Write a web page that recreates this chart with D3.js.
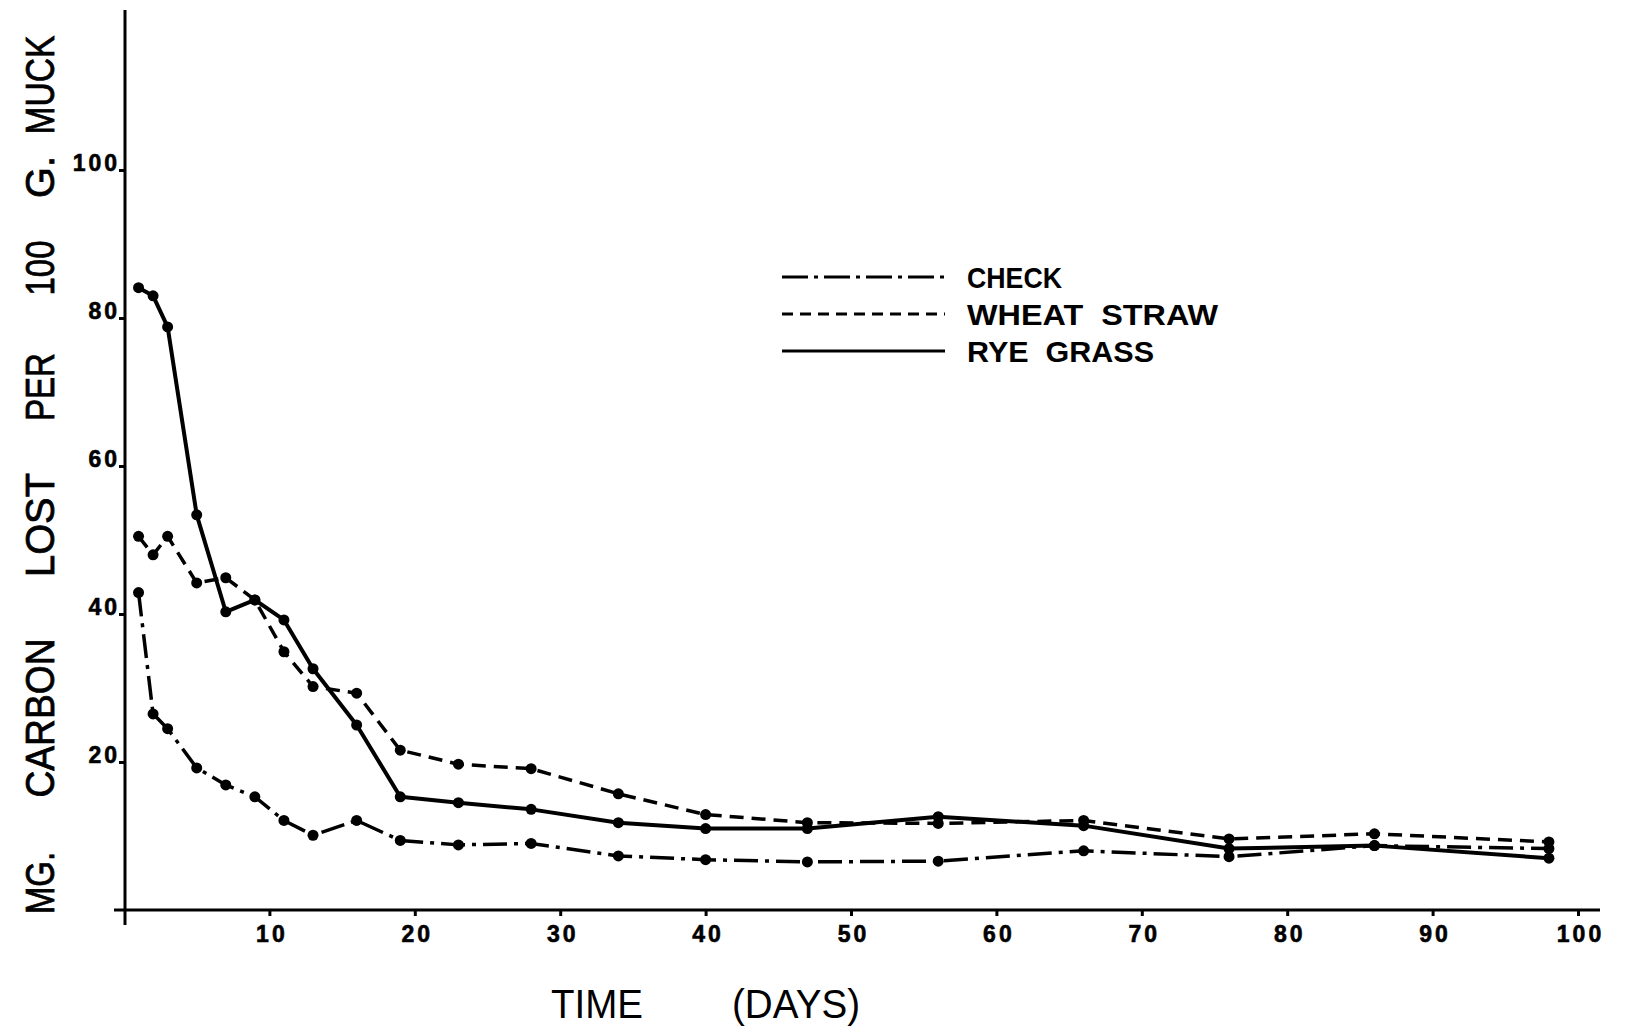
<!DOCTYPE html>
<html>
<head>
<meta charset="utf-8">
<script src="https://d3js.org/d3.v7.min.js"></script>
<style>
  body { margin: 0; background: #fff; }
  svg { display: block; }
  text { fill: #000; }
</style>
</head>
<body>
<div id="chart"></div>
<script>
// sampling days
var days = [1, 2, 3, 5, 7, 9, 11, 13, 16, 19, 23, 28, 34, 40, 47, 56, 66, 76, 86, 98];

// mg carbon lost per 100 g muck
var check = [42.9, 26.5, 24.5, 19.2, 16.9, 15.3, 12.1, 10.1, 12.1, 9.4, 8.8, 9.0, 7.3, 6.8, 6.5, 6.6, 8.0, 7.2, 8.7, 8.3];
var wheatStraw = [50.5, 48.0, 50.5, 44.2, 44.9, 41.9, 34.9, 30.2, 29.3, 21.6, 19.7, 19.1, 15.7, 12.9, 11.8, 11.7, 12.1, 9.6, 10.3, 9.2];
var ryeGrass = [84.1, 83.0, 78.8, 53.4, 40.3, 41.9, 39.2, 32.6, 25.0, 15.3, 14.5, 13.6, 11.8, 11.0, 11.0, 12.6, 11.4, 8.3, 8.7, 7.0];

var seriesNames = ['CHECK', 'WHEAT  STRAW', 'RYE  GRASS'];
var xTicks = [10, 20, 30, 40, 50, 60, 70, 80, 90, 100];
var yTicks = [20, 40, 60, 80, 100];
var yTitleWords = ['MG.', 'CARBON', 'LOST', 'PER', '100', 'G.', 'MUCK'];

var width = 1629, height = 1032;

var svg = d3.select('#chart').append('svg')
    .attr('width', width)
    .attr('height', height);

var x = d3.scaleLinear().domain([0, 100]).range([124, 1578]);
var y = d3.scaleLinear().domain([0, 100]).range([910, 170]);

var font = '"Liberation Sans", Arial, sans-serif';

// axis frame lines
svg.append('line')
    .attr('x1', x(0) + 1).attr('x2', x(0) + 1)
    .attr('y1', y(0) + 15).attr('y2', 10)
    .attr('stroke', '#000').attr('stroke-width', 3);
svg.append('line')
    .attr('x1', x(0) - 10).attr('x2', 1600)
    .attr('y1', y(0)).attr('y2', y(0))
    .attr('stroke', '#000').attr('stroke-width', 3);

// axes
var xAxis = svg.append('g')
    .attr('transform', 'translate(0,' + y(0) + ')')
    .call(d3.axisBottom(x).tickValues(xTicks).tickSize(6).tickPadding(10));
var yAxis = svg.append('g')
    .attr('transform', 'translate(' + (x(0) + 1) + ',0)')
    .call(d3.axisLeft(y).tickValues(yTicks).tickSize(6).tickPadding(4));

[xAxis, yAxis].forEach(function(g) {
  g.select('.domain').remove();
  g.selectAll('.tick line').attr('stroke', '#000').attr('stroke-width', 3);
  g.selectAll('.tick text')
      .attr('font-family', font)
      .attr('font-weight', 'bold')
      .attr('font-size', 23)
      .attr('letter-spacing', 3)
      .attr('stroke', '#000')
      .attr('stroke-width', 0.6)
      .attr('fill', '#000');
});
yAxis.selectAll('.tick text').attr('dy', '0em').attr('x', -5);
xAxis.selectAll('.tick text').attr('dx', 2);

// lines
var line = d3.line()
    .x(function(d) { return x(d[0]); })
    .y(function(d) { return y(d[1]); });

var series = [
  { values: check, dash: '24,7,4,7', width: 3.5 },
  { values: wheatStraw, dash: '14,8', width: 3.5 },
  { values: ryeGrass, dash: null, width: 4 }
];

series.forEach(function(s) {
  var pts = days.map(function(d, i) { return [d, s.values[i]]; });
  svg.append('path')
      .datum(pts)
      .attr('d', line)
      .attr('fill', 'none')
      .attr('stroke', '#000')
      .attr('stroke-width', s.width)
      .attr('stroke-linejoin', 'round')
      .attr('stroke-dasharray', s.dash);
  svg.append('g').selectAll('circle')
      .data(pts)
      .enter().append('circle')
      .attr('cx', function(d) { return x(d[0]); })
      .attr('cy', function(d) { return y(d[1]); })
      .attr('r', 5.5)
      .attr('fill', '#000');
});

// legend
var legendLengths = [95, 251, 187];
var legend = svg.append('g').attr('transform', 'translate(782,277)');
series.forEach(function(s, i) {
  var row = legend.append('g').attr('transform', 'translate(0,' + (i * 37) + ')');
  row.append('line')
      .attr('x1', 0).attr('x2', 163)
      .attr('y1', 0).attr('y2', 0)
      .attr('stroke', '#000')
      .attr('stroke-width', 3)
      .attr('stroke-dasharray', i == 0 ? '26,6,4,6' : (i == 1 ? '11,7' : null));
  row.append('text')
      .attr('x', 185)
      .attr('y', 11)
      .attr('font-family', font)
      .attr('font-weight', 'bold')
      .attr('font-size', 30)
      .attr('textLength', legendLengths[i])
      .attr('lengthAdjust', 'spacingAndGlyphs')
      .style('white-space', 'pre')
      .text(seriesNames[i]);
});

// y title, word by word
var wordCenters = [883, 718, 525, 387, 268, 177, 85];
var wordLengths = [62, 159, 104, 68, 55, 42, 99];
yTitleWords.forEach(function(w, i) {
  svg.append('text')
      .attr('transform', 'translate(54,' + wordCenters[i] + ') rotate(-90)')
      .attr('text-anchor', 'middle')
      .attr('font-family', font)
      .attr('font-size', 41)
      .attr('stroke', '#000')
      .attr('stroke-width', 0.8)
      .attr('textLength', wordLengths[i])
      .attr('lengthAdjust', 'spacingAndGlyphs')
      .text(w);
});

// x title
svg.append('text')
    .attr('x', 551).attr('y', 1018)
    .attr('font-family', font)
    .attr('font-size', 41)
    .attr('textLength', 92)
    .attr('lengthAdjust', 'spacingAndGlyphs')
    .text('TIME');
svg.append('text')
    .attr('x', 732).attr('y', 1018)
    .attr('font-family', font)
    .attr('font-size', 41)
    .attr('textLength', 128)
    .attr('lengthAdjust', 'spacingAndGlyphs')
    .text('(DAYS)');
</script>
</body>
</html>
